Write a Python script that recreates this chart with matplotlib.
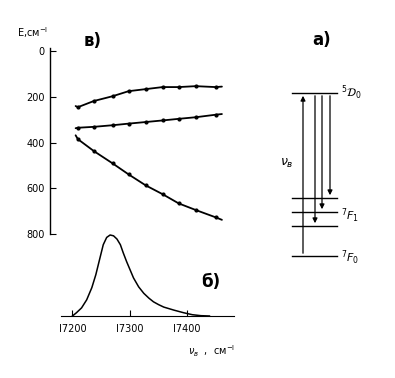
import numpy as np
import matplotlib
matplotlib.use("Agg")
from matplotlib import pyplot as plt

# excitation frequency, cm-1 (points on the three curves of panel в)
nu = [17209, 17237, 17270, 17298, 17328, 17358, 17386, 17416, 17451]
E_upper = [245, 218, 197, 175, 166, 157, 157, 153, 157]
E_middle = [335, 331, 324, 317, 310, 303, 296, 289, 278]
E_lower = [385, 437, 491, 539, 587, 626, 666, 695, 727]
# line ends beyond the points
nu_ends = [17205, 17462]
upper_ends = [240, 155]
middle_ends = [337, 275]
lower_ends = [368, 738]

# panel б: excitation spectrum
spec_nu = [17200, 17207, 17216, 17225, 17234, 17241, 17248, 17254, 17260, 17266,
           17272, 17278, 17284, 17289, 17295, 17301, 17307, 17316, 17325, 17334,
           17342, 17351, 17360, 17378, 17395, 17410, 17425, 17440]
spec_I = [0.0, 0.04, 0.10, 0.20, 0.35, 0.51, 0.71, 0.88, 0.97, 1.0,
          0.99, 0.95, 0.88, 0.78, 0.67, 0.57, 0.47, 0.36, 0.28, 0.22,
          0.175, 0.14, 0.11, 0.072, 0.04, 0.016, 0.004, 0.0]

E_ticks = [0, 200, 400, 600, 800]
nu_ticks = [17200, 17300, 17400]
nu_ticklabels = ["I7200", "I7300", "I7400"]

# panel а: levels (figure pixel rows)
lvl_top = 93
lvl_f1 = [198, 212, 226]
lvl_f0 = 256

W, H = 395, 378
fig = plt.figure(figsize=(W / 100, H / 100), dpi=100)

def fx(px):
    return px / W

def fy(py):
    return 1 - py / H

# --- panel в
ax = fig.add_axes([fx(50), fy(234), fx(185), fy(48) - fy(234)])
ax.set_xlim(17160, 17485)
ax.set_ylim(800, -14)
for s in ["top", "right", "bottom"]:
    ax.spines[s].set_visible(False)
ax.spines["left"].set_linewidth(1.0)
ax.set_xticks([])
ax.set_yticks(E_ticks)
ax.tick_params(axis="y", direction="in", length=4, labelsize=7, pad=4)

for E, ends in [(E_upper, upper_ends), (E_middle, middle_ends), (E_lower, lower_ends)]:
    xs = [nu_ends[0]] + nu + [nu_ends[1]]
    ys = [ends[0]] + E + [ends[1]]
    ax.plot(xs, ys, color="black", lw=1.3, solid_joinstyle="round", solid_capstyle="round")
    ax.plot(nu, E, "o", color="black", ms=2)

fig.text(fx(17), fy(33), "E,см$^{-\\mathrm{I}}$", fontsize=7, va="center")
fig.text(fx(84), fy(41), "в)", fontsize=12, fontweight="bold", va="center")

# --- panel б
bx = fig.add_axes([fx(61), fy(316), fx(173), fy(235) - fy(316)])
bx.set_xlim(17180, 17483)
bx.set_ylim(0, 1.0)
for s in ["top", "right", "left"]:
    bx.spines[s].set_visible(False)
bx.set_yticks([])
bx.set_xticks(nu_ticks)
bx.set_xticklabels(nu_ticklabels)
bx.tick_params(axis="x", direction="in", length=4, labelsize=7, pad=6)
bx.plot(spec_nu, spec_I, color="black", lw=1.1, clip_on=False,
        solid_joinstyle="round")
fig.text(fx(188), fy(351), r"$\nu_{в}$" + "  ,  см$^{-\\mathrm{I}}$", fontsize=7, va="center")
fig.text(fx(201), fy(282), "б)", fontsize=12, fontweight="bold", va="center")

# --- panel а
lx = fig.add_axes([0, 0, 1, 1])
lx.set_xlim(0, W)
lx.set_ylim(H, 0)
lx.axis("off")
x0, x1 = 292, 337
for y in [lvl_top] + lvl_f1 + [lvl_f0]:
    lx.plot([x0, x1], [y, y], color="black", lw=1.0)
lx.annotate("", xy=(303, lvl_top), xytext=(303, lvl_f0),
            arrowprops=dict(arrowstyle="-|>", color="black", lw=0.9, mutation_scale=7))
for x, y in zip([315, 322, 330], [lvl_f1[2], lvl_f1[1], lvl_f1[0]]):
    lx.annotate("", xy=(x, y), xytext=(x, lvl_top),
                arrowprops=dict(arrowstyle="-|>", color="black", lw=0.9, mutation_scale=7))
lx.text(341, lvl_top, r"$^5\mathcal{D}_0$", fontsize=8, va="center")
lx.text(341, 216, r"$^7F_1$", fontsize=8, va="center")
lx.text(341, 258, r"$^7F_0$", fontsize=8, va="center")
lx.text(287, 163, r"$\nu_{в}$", fontsize=9, va="center", ha="center")
lx.text(312, 40, "а)", fontsize=12, fontweight="bold", va="center")

fig.savefig("out.png", dpi=100)
